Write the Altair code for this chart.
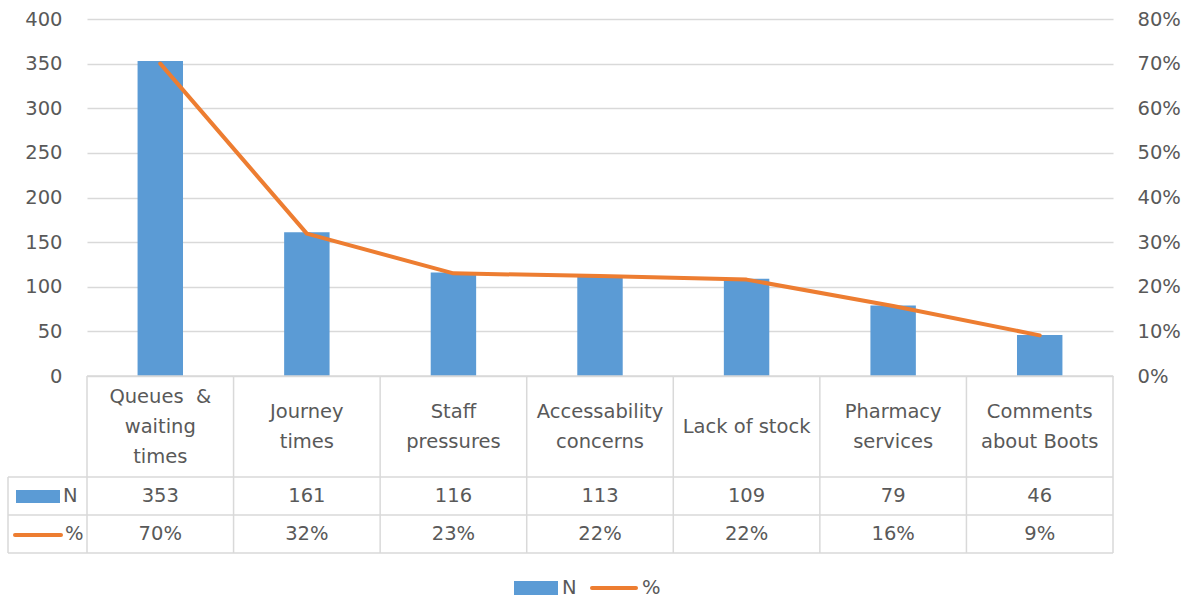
import altair as alt
import pandas as pd

# ---- data ----
cat_keys = ["queues", "journey", "staff", "access", "stock", "pharmacy", "boots"]
cat_labels = ["Queues\u00a0\u00a0&\nwaiting\ntimes", "Journey\ntimes", "Staff\npressures",
              "Accessability\nconcerns", "Lack of stock", "Pharmacy\nservices",
              "Comments\nabout Boots"]
n_values = [353, 161, 116, 113, 109, 79, 46]
pct_values = [0.700, 0.319, 0.230, 0.224, 0.216, 0.157, 0.091]
pct_labels = ["70%", "32%", "23%", "22%", "22%", "16%", "9%"]
series_names = ["N", "%"]

left_ticks = [0, 50, 100, 150, 200, 250, 300, 350, 400]
right_ticks = [0, 0.1, 0.2, 0.3, 0.4, 0.5, 0.6, 0.7, 0.8]

df = pd.DataFrame({
    "cat": cat_keys,
    "label": cat_labels,
    "nlines": [s.count("\n") + 1 for s in cat_labels],
    "n": n_values,
    "n_label": [str(v) for v in n_values],
    "pct": pct_values,
    "pct_label": pct_labels,
})

# ---- layout constants ----
W, H = 1026, 357
FONT = "DejaVu Sans"
FS = 19.5
TXT = "#595959"
GRID = "#d9d9d9"
BLUE = "#5B9BD5"
ORANGE = "#ED7D31"
LH = 30
ROW1_BOTTOM = 458   # relative to plot top (477 abs)
ROW2_BOTTOM = 496   # 515 abs
ROW3_BOTTOM = 534   # 553 abs
TABLE_LEFT = -79    # 8 abs

no_view = alt.ViewBackground(stroke="transparent", strokeWidth=0)

xenc = alt.X("cat:N", sort=cat_keys,
             scale=alt.Scale(paddingInner=0.69, paddingOuter=0.345), axis=None)

base = alt.Chart(df)

axis_style = dict(labelFont=FONT, labelFontSize=FS, labelColor=TXT, domain=False,
                  ticks=False, title=None)

bars = base.mark_bar(color=BLUE).encode(
    x=xenc,
    y=alt.Y("n:Q", scale=alt.Scale(domain=[0, 400], nice=False),
            axis=alt.Axis(values=left_ticks, grid=True, gridColor=GRID, gridWidth=1.5,
                          labelPadding=25, **axis_style)),
)

line = base.mark_line(color=ORANGE, strokeWidth=4, strokeCap="round", strokeJoin="round").encode(
    x=xenc,
    y=alt.Y("pct:Q", scale=alt.Scale(domain=[0, 0.8], nice=False),
            axis=alt.Axis(orient="right", values=right_ticks, format=".0%", grid=False,
                          labelPadding=24, **axis_style)),
)

main = alt.layer(bars, line, view=no_view).resolve_scale(y="independent")

# ---- data table ----
txt_kw = dict(font=FONT, fontSize=FS, color=TXT, baseline="middle", align="center")
row1_mid = (H + ROW1_BOTTOM) / 2
cat_texts = []
for k in [1, 2, 3]:
    cat_texts.append(base.mark_text(lineBreak="\n", lineHeight=LH, **txt_kw).encode(
        x=xenc, y=alt.value(row1_mid - (k - 1) * LH / 2), text="label:N"
    ).transform_filter(alt.datum.nlines == k))
n_text = base.mark_text(**txt_kw).encode(
    x=xenc, y=alt.value((ROW1_BOTTOM + ROW2_BOTTOM) / 2), text="n_label:N")
p_text = base.mark_text(**txt_kw).encode(
    x=xenc, y=alt.value((ROW2_BOTTOM + ROW3_BOTTOM) / 2), text="pct_label:N")

one = pd.DataFrame({"s": [0]})
rules = []
step = W / len(cat_keys)
for i in range(len(cat_keys) + 1):
    rules.append(alt.Chart(one).mark_rule(color=GRID, strokeWidth=1.5).encode(
        x=alt.value(i * step), y=alt.value(H), y2=alt.value(ROW3_BOTTOM)))
rules.append(alt.Chart(one).mark_rule(color=GRID, strokeWidth=1.5).encode(
    x=alt.value(TABLE_LEFT), y=alt.value(ROW1_BOTTOM), y2=alt.value(ROW3_BOTTOM)))
rules.append(alt.Chart(one).mark_rule(color=GRID, strokeWidth=1.5).encode(
    x=alt.value(0), x2=alt.value(W), y=alt.value(H)))
for yy in [ROW1_BOTTOM, ROW2_BOTTOM, ROW3_BOTTOM]:
    rules.append(alt.Chart(one).mark_rule(color=GRID, strokeWidth=1.5).encode(
        x=alt.value(TABLE_LEFT), x2=alt.value(W), y=alt.value(yy)))

leg_df_n = pd.DataFrame({"name": [series_names[0]]})
leg_df_p = pd.DataFrame({"name": [series_names[1]]})
lab_kw = dict(font=FONT, fontSize=FS, color=TXT, align="left", baseline="middle")

# table row keys
key_n_rect = alt.Chart(leg_df_n).mark_rect(color=BLUE).encode(
    x=alt.value(-71), x2=alt.value(-27), y=alt.value(471), y2=alt.value(484))
key_n_txt = alt.Chart(leg_df_n).mark_text(**lab_kw).encode(
    x=alt.value(-24), y=alt.value(477), text="name:N")
key_p_line = alt.Chart(leg_df_p).mark_rule(color=ORANGE, strokeWidth=4, strokeCap="round").encode(
    x=alt.value(-72), x2=alt.value(-26), y=alt.value(516))
key_p_txt = alt.Chart(leg_df_p).mark_text(**lab_kw).encode(
    x=alt.value(-22), y=alt.value(515), text="name:N")

# bottom legend
lg_n_rect = alt.Chart(leg_df_n).mark_rect(color=BLUE).encode(
    x=alt.value(427), x2=alt.value(471), y=alt.value(562), y2=alt.value(576))
lg_n_txt = alt.Chart(leg_df_n).mark_text(**lab_kw).encode(
    x=alt.value(475), y=alt.value(569), text="name:N")
lg_p_line = alt.Chart(leg_df_p).mark_rule(color=ORANGE, strokeWidth=4, strokeCap="round").encode(
    x=alt.value(505), x2=alt.value(549), y=alt.value(569))
lg_p_txt = alt.Chart(leg_df_p).mark_text(**lab_kw).encode(
    x=alt.value(555), y=alt.value(569), text="name:N")

chart = alt.layer(
    main, *rules, *cat_texts, n_text, p_text,
    key_n_rect, key_n_txt, key_p_line, key_p_txt,
    lg_n_rect, lg_n_txt, lg_p_line, lg_p_txt,
    view=no_view,
).properties(
    width=W, height=H,
    background="white",
    autosize=alt.AutoSizeParams(type="none"),
    padding={"left": 87, "top": 19, "right": 75, "bottom": 223},
)

chart.save("out.html", embed_options={"renderer": "svg", "actions": False})
